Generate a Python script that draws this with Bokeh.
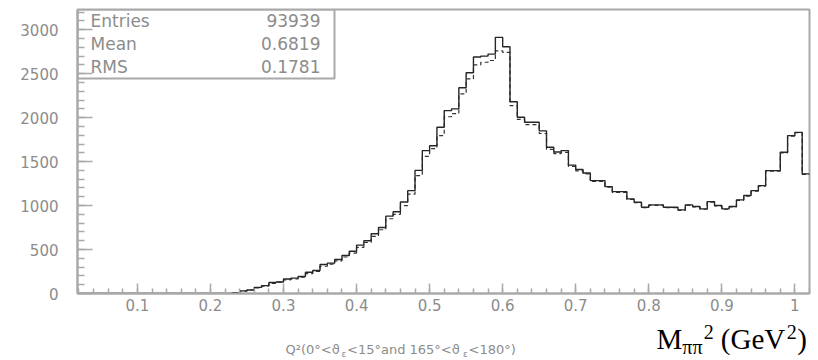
import numpy as np
from bokeh.plotting import figure
from bokeh.layouts import column
from bokeh.models import Label, FixedTicker, BoxAnnotation, Range1d, CustomJSTickFormatter
from bokeh.embed import file_html
from bokeh.resources import INLINE

# ---------------- data ----------------
bin_start = 0.02
bin_width = 0.01
# solid histogram, bins 0.02 ... 1.01 (lower edges)
counts_solid = [
    0, 0, 0, 0, 0, 0, 0, 0, 0, 0,
    0, 0, 0, 0, 0, 0, 0, 0, 0, 0,
    0, 10, 30, 40, 70, 90, 125, 130, 165, 175,
    193, 242, 261, 330, 345, 386, 432, 480, 550, 600,
    680, 750, 880, 930, 1040, 1170, 1400, 1625, 1680, 1890,
    2080, 2100, 2340, 2510, 2690, 2700, 2723, 2913, 2807, 2180,
    2004, 1947, 1947, 1850, 1663, 1610, 1625, 1460, 1410, 1370,
    1284, 1284, 1216, 1159, 1159, 1076, 1038, 981, 1008, 1008,
    981, 981, 951, 1008, 990, 962, 1045, 1000, 962, 990,
    1065, 1114, 1170, 1227, 1398, 1398, 1606, 1795, 1833, 1360,
]
# dashed histogram, same bins
counts_dashed = [
    0, 0, 0, 0, 0, 0, 0, 0, 0, 0,
    0, 0, 0, 0, 0, 0, 0, 0, 0, 0,
    0, 10, 28, 40, 65, 85, 115, 130, 155, 165,
    185, 225, 250, 310, 335, 370, 415, 460, 525, 580,
    650, 725, 850, 900, 1000, 1130, 1340, 1560, 1647, 1795,
    2010, 2045, 2270, 2440, 2600, 2630, 2650, 2760, 2742, 2136,
    1980, 1920, 1920, 1820, 1640, 1590, 1605, 1445, 1395, 1360,
    1275, 1275, 1210, 1150, 1150, 1070, 1032, 976, 1003, 1003,
    976, 976, 946, 1003, 985, 958, 1040, 995, 958, 985,
    1060, 1108, 1165, 1222, 1392, 1392, 1600, 1790, 1828, 1355,
]
x_ticks = [0.1, 0.2, 0.3, 0.4, 0.5, 0.6, 0.7, 0.8, 0.9, 1.0]
x_tick_labels = ["0.1", "0.2", "0.3", "0.4", "0.5", "0.6", "0.7", "0.8", "0.9", "1"]
y_ticks = [0, 500, 1000, 1500, 2000, 2500, 3000]
stats_names = ["Entries", "Mean", "RMS"]
stats_values = ["93939", "0.6819", "0.1781"]
title_q_parts = ["Q²(0°<ϑ", "ε", "<15°and 165°<ϑ", "ε", "<180°)"]
title_m_parts = ["M", "ππ", "2", "(GeV", "2", ")"]

# ---------------- layout ----------------
X_START, X_END = 0.018, 1.02
Y_START, Y_END = 0, 3230
W, H1, H2 = 818, 321, 39
FL, FR, FT, FB = 77, 809, 9, 293   # frame in figure px

def dx(px):
    return X_START + (px - FL) * (X_END - X_START) / (FR - FL)

def dy(py):
    return Y_START + (FB - py) * (Y_END - Y_START) / (FB - FT)

GRAY = "#a9a9a9"
TXT = "#8c8c8c"

p = figure(width=W, height=H1, output_backend="svg", toolbar_location=None,
           x_range=Range1d(X_START, X_END), y_range=Range1d(Y_START, Y_END),
           min_border_left=FL, min_border_right=W - FR,
           min_border_top=FT, min_border_bottom=H1 - FB)
p.title_location = None
p.xgrid.visible = False
p.ygrid.visible = False
p.outline_line_color = GRAY
p.outline_line_width = 2
p.outline_line_alpha = 1.0

edges = bin_start + bin_width * np.arange(len(counts_solid) + 1)
ys = list(counts_solid) + [counts_solid[-1]]
yd = list(counts_dashed) + [counts_dashed[-1]]
p.step(edges, yd, mode="after", line_color="#333333", line_width=1.2, line_dash="4 3")
p.step(edges, ys, mode="after", line_color="#262626", line_width=1.4)

# axes
minor_x = list(np.round(np.arange(0.02, 1.021, 0.02), 3))
p.xaxis.ticker = FixedTicker(ticks=x_ticks, minor_ticks=minor_x)
p.xaxis.formatter = CustomJSTickFormatter(args=dict(labels=x_tick_labels),
                                          code="return labels[index];")
p.yaxis.ticker = FixedTicker(ticks=y_ticks, minor_ticks=list(range(0, 3300, 100)))

for ax in (p.xaxis[0], p.yaxis[0]):
    ax.axis_line_color = GRAY
    ax.axis_line_width = 2
    ax.major_tick_line_color = GRAY
    ax.major_tick_line_width = 1.5
    ax.minor_tick_line_color = GRAY
    ax.minor_tick_line_width = 1.5
    ax.major_tick_out = 0
    ax.minor_tick_out = 0
    ax.major_label_text_font = "DejaVu Sans"
    ax.major_label_text_font_size = "15px"
    ax.major_label_text_color = TXT

p.xaxis.major_tick_in = 10
p.xaxis.minor_tick_in = 5
p.xaxis.major_label_standoff = 5
p.yaxis.major_tick_in = 15
p.yaxis.minor_tick_in = 7
p.yaxis.major_label_standoff = 19

# stats box
p.add_layout(BoxAnnotation(left=X_START, right=dx(334), bottom=dy(78), top=Y_END,
                           fill_alpha=0, line_color=GRAY, line_alpha=1, line_width=2))
for i, (n, v) in enumerate(zip(stats_names, stats_values)):
    yy = dy(20 + 23 * i)
    p.add_layout(Label(x=dx(90), y=yy, text=n, text_align="left", text_baseline="middle",
                       text_font="DejaVu Sans", text_font_size="17px", text_color=TXT))
    p.add_layout(Label(x=dx(320), y=yy, text=v, text_align="right", text_baseline="middle",
                       text_font="DejaVu Sans", text_font_size="17px", text_color=TXT))

# ---------------- title strip below ----------------
# frames in a column are aligned, so the strip's frame spans FL..FR horizontally;
# x is in page pixels, y in pixels from the top of the strip
p2 = figure(width=W, height=H2, output_backend="svg", toolbar_location=None,
            x_range=Range1d(FL, FR), y_range=Range1d(H2, 0),
            x_axis_type=None, y_axis_type=None,
            min_border_left=FL, min_border_right=W - FR, min_border_top=0, min_border_bottom=0)
p2.title_location = None
p2.xgrid.visible = False
p2.ygrid.visible = False
p2.outline_line_color = None

# x-axis title (gray, small) -- y = vertical centre of each piece
qx = 285
q_sizes = [13, 9, 13, 9, 13]
q_widths = [56.0, 5.5, 116.0, 5.5, 47.0]
q_y = [28, 32, 28, 32, 28]
for part, sz, w, yy in zip(title_q_parts, q_sizes, q_widths, q_y):
    p2.add_layout(Label(x=qx, y=yy, text=part,
                        text_align="left", text_baseline="middle",
                        text_font="DejaVu Sans", text_font_size=f"{sz}px", text_color=TXT))
    qx += w

# M_pipi^2 (GeV^2) label
m_sizes = [29, 20, 20, 29, 20, 29]
m_y = [17, 25, 10, 17, 10, 17]
m_widths = [25.8, 21.5, 17.0, 66.0, 10.5, 9.7]
mx = 656
for t, sz, yy, w in zip(title_m_parts, m_sizes, m_y, m_widths):
    p2.add_layout(Label(x=mx, y=yy, text=t, text_align="left",
                        text_baseline="middle", text_font="Liberation Serif",
                        text_font_size=f"{sz}px", text_color="black"))
    mx += w

open("out.html", "w").write(file_html(column(p, p2, spacing=0), INLINE))
